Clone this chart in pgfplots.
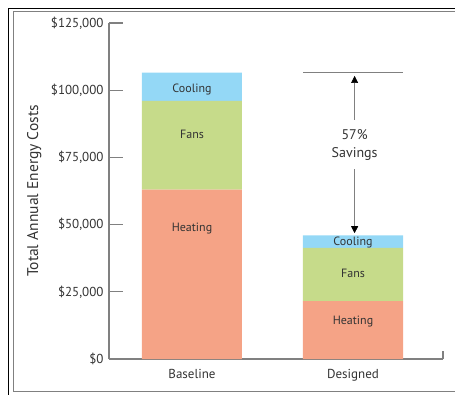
\documentclass[border=0pt]{standalone}
\usepackage{pgfplots}
\pgfplotsset{compat=1.18}
\usetikzlibrary{arrows.meta}
\usepackage{fontspec}
\setmainfont{PT Sans}
\definecolor{cool}{HTML}{94D8F6}
\definecolor{fan}{HTML}{C6DB8A}
\definecolor{heat}{HTML}{F5A386}
\definecolor{axgray}{HTML}{808080}
\definecolor{txt}{HTML}{333333}
\begin{document}
\begin{tikzpicture}
% page / frame (1px = 1pt), axis origin at pixel (109,359)
\path[use as bounding box] (-109pt,-35pt) rectangle (346pt,359pt);
\draw[black,line width=1.2pt] (-100.5pt,-35.5pt) -- (-100.5pt,350.5pt) -- (346.5pt,350.5pt);
\draw[axgray,line width=0.9pt] (-95.5pt,-32.5pt) -- (-95.5pt,347.5pt) -- (346.5pt,347.5pt);
\draw[axgray,line width=0.9pt] (-95.5pt,-32.5pt) -- (346.5pt,-32.5pt);
\begin{axis}[
  at={(0pt,0pt)}, anchor=south west,
  scale only axis, width=334pt, height=336pt,
  ybar stacked, bar width=100pt,
  xmin=-0.5155, xmax=1.559,
  ymin=0, ymax=125000,
  axis x line*=bottom, axis y line*=left,
  axis line style={axgray, line width=1.3pt, -},
  xtick={0,1}, xticklabels={Baseline,Designed},
  xtick style={draw=none},
  scaled y ticks=false,
  ytick={0,25000,50000,75000,100000,125000},
  yticklabels={{\$0},{\$25,000},{\$50,000},{\$75,000},{\$100,000},{\$125,000}},
  ytick style={axgray, line width=1.3pt},
  ytick align=inside, major tick length=14pt,
  yticklabel style={font=\fontsize{13}{15}\selectfont, text=txt, xshift=-2pt},
  xticklabel style={font=\fontsize{13}{15}\selectfont, text=txt, yshift=-7pt},
  ylabel={Total Annual Energy Costs},
  every axis y label/.style={at={(axis description cs:-0.2236,0.5)}, rotate=90, anchor=center, font=\fontsize{15.5}{18}\selectfont, text=txt},
  clip=false,
]
\addplot[fill=heat, draw=none] coordinates {(0,63000) (1,21500)};
\addplot[fill=fan, draw=none] coordinates {(0,33000) (1,19800)};
\addplot[fill=cool, draw=none] coordinates {(0,10500) (1,4700)};
\coordinate (bc) at (axis cs:0,100400);
\coordinate (bf) at (axis cs:0,83700);
\coordinate (bh) at (axis cs:0,48400);
\coordinate (dc) at (axis cs:1,43200);
\coordinate (df) at (axis cs:1,32000);
\coordinate (dh) at (axis cs:1,14100);
\draw[axgray, line width=0.8pt] (axis cs:0.69,106500) -- (axis cs:1.31,106500);
\draw[axgray, line width=0.7pt, -{Triangle[color=black,fill=black,length=7pt,width=7pt]}] (axis cs:1.01,89000) -- (axis cs:1.01,105300);
\draw[axgray, line width=0.7pt, -{Triangle[color=black,fill=black,length=7pt,width=7pt]}] (axis cs:1.01,70500) -- (axis cs:1.01,46800);
\node[font=\fontsize{14}{18}\selectfont, text=txt, align=center] at (axis cs:1.01,79800) {57\%\\Savings};
\draw[axgray, line width=1.3pt] (rel axis cs:1,0) -- ++(0pt,8pt);
\end{axis}
\begin{scope}[every node/.style={font=\fontsize{12}{14}\selectfont, text=txt}]
\node at (bc) {Cooling};
\node at (bf) {Fans};
\node at (bh) {Heating};
\node at (dc) {Cooling};
\node at (df) {Fans};
\node at (dh) {Heating};
\end{scope}
\end{tikzpicture}
\end{document}
